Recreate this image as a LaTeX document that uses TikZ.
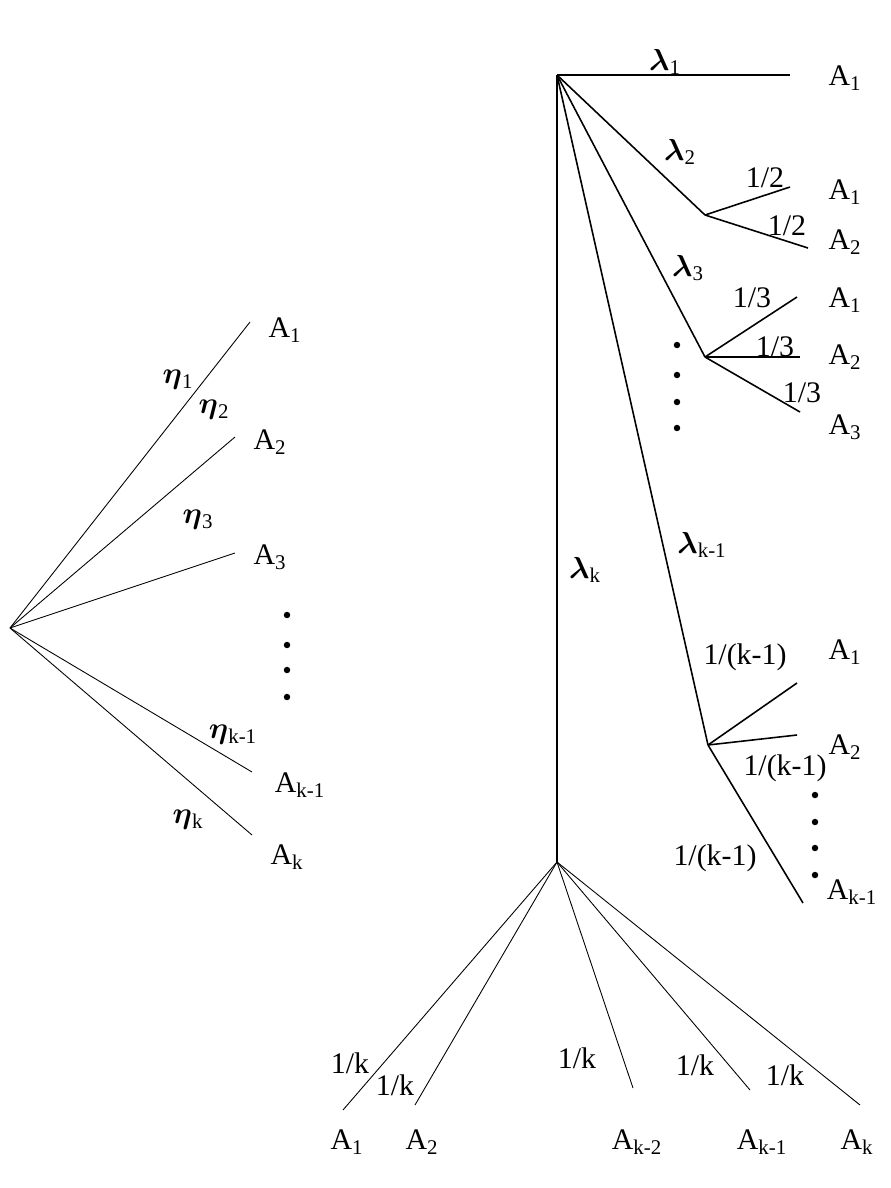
\documentclass[tikz,border=0pt]{standalone}
\usepackage{fontspec}
\setmainfont{Liberation Serif}
\usepackage{amsmath}
\begin{document}
\begin{tikzpicture}[x=0.02cm,y=-0.02cm,
  lab/.style={font=\fontsize{17}{20}\selectfont,inner sep=0pt},
  gl/.style={font=\fontsize{17}{20}\selectfont\bfseries,inner sep=0pt},
  thin/.style={line width=0.5pt},
  thick2/.style={line width=0.9pt},
  dt/.style={circle,fill,inner sep=1.3pt}]
\useasboundingbox (0,0) rectangle (891,1188);
% left tree
\coordinate (L) at (10,628);
\coordinate (l1) at (250,322); \coordinate (l2) at (235,437); \coordinate (l3) at (235,553);
\coordinate (l4) at (252,772); \coordinate (l5) at (252,835);
\foreach \e in {l1,l2,l3,l4,l5} \draw[thin] (L) -- (\e);
\node[lab] (la1) at (285,330) {A\textsubscript{1}};
\node[lab] (la2) at (270,442) {A\textsubscript{2}};
\node[lab] (la3) at (270,557) {A\textsubscript{3}};
\node[lab] (la4) at (300,785) {A\textsubscript{k-1}};
\node[lab] (la5) at (287,857) {A\textsubscript{k}};
\foreach \y in {615,645,670,697} \node[dt] at (287,\y) {};
\node[lab] (e1) at (178,380) {$\boldsymbol\eta$\textsubscript{1}};
\node[lab] (e2) at (214,410) {$\boldsymbol\eta$\textsubscript{2}};
\node[lab] (e3) at (198,520) {$\boldsymbol\eta$\textsubscript{3}};
\node[lab] (e4) at (233,735) {$\boldsymbol\eta$\textsubscript{k-1}};
\node[lab] (e5) at (188,820) {$\boldsymbol\eta$\textsubscript{k}};
% right tree
\coordinate (R) at (557,75);
\coordinate (B2) at (705,215); \coordinate (B3) at (705,357);
\coordinate (Bk1) at (708,745); \coordinate (Bk) at (557,862);
\coordinate (r1) at (790,75);
\draw[thick2] (R) -- (r1);
\draw[thick2] (R) -- (B2); \draw[thick2] (R) -- (B3); \draw[thick2] (R) -- (Bk1); \draw[thick2] (R) -- (Bk);
\node[lab] at (845,78) {A\textsubscript{1}};
\node[lab] at (665,62) {$\boldsymbol\lambda$\textsubscript{1}};
\node[lab] at (680,152) {$\boldsymbol\lambda$\textsubscript{2}};
\node[lab] at (688,268) {$\boldsymbol\lambda$\textsubscript{3}};
\node[lab] at (702,545) {$\boldsymbol\lambda$\textsubscript{k-1}};
\node[lab] at (585,570) {$\boldsymbol\lambda$\textsubscript{k}};
% B2
\coordinate (b21) at (790,187); \coordinate (b22) at (808,248);
\draw[thick2] (B2) -- (b21); \draw[thick2] (B2) -- (b22);
\node[lab] at (845,192) {A\textsubscript{1}};
\node[lab] at (845,242) {A\textsubscript{2}};
\node[lab] at (765,178) {1/2}; \node[lab] at (787,226) {1/2};
% B3
\coordinate (b31) at (797,297); \coordinate (b32) at (800,357); \coordinate (b33) at (800,412);
\foreach \e in {b31,b32,b33} \draw[thick2] (B3) -- (\e);
\node[lab] at (845,300) {A\textsubscript{1}};
\node[lab] at (845,357) {A\textsubscript{2}};
\node[lab] at (845,427) {A\textsubscript{3}};
\node[lab] at (752,298) {1/3}; \node[lab] at (775,347) {1/3}; \node[lab] at (802,393) {1/3};
\foreach \y in {345,375,402,428} \node[dt] at (677,\y) {};
% Bk1
\coordinate (c1) at (797,683); \coordinate (c2) at (797,735); \coordinate (c3) at (803,903);
\foreach \e in {c1,c2,c3} \draw[thick2] (Bk1) -- (\e);
\node[lab] at (845,652) {A\textsubscript{1}};
\node[lab] at (845,747) {A\textsubscript{2}};
\node[lab] at (852,892) {A\textsubscript{k-1}};
\node[lab] at (745,657) {1/(k-1)}; \node[lab] at (785,768) {1/(k-1)}; \node[lab] at (715,858) {1/(k-1)};
\foreach \y in {795,822,848,875} \node[dt] at (815,\y) {};
% Bk
\coordinate (d1) at (343,1110); \coordinate (d2) at (415,1105); \coordinate (d3) at (633,1088);
\coordinate (d4) at (750,1090); \coordinate (d5) at (860,1105);
\foreach \e in {d1,d2,d3,d4,d5} \draw[thin] (Bk) -- (\e);
\node[lab] at (347,1142) {A\textsubscript{1}};
\node[lab] at (422,1142) {A\textsubscript{2}};
\node[lab] at (637,1142) {A\textsubscript{k-2}};
\node[lab] at (762,1142) {A\textsubscript{k-1}};
\node[lab] at (857,1142) {A\textsubscript{k}};
\node[lab] at (350,1063) {1/k}; \node[lab] at (395,1085) {1/k};
\node[lab] at (577,1058) {1/k}; \node[lab] at (695,1065) {1/k}; \node[lab] at (785,1075) {1/k};
\end{tikzpicture}
\end{document}
